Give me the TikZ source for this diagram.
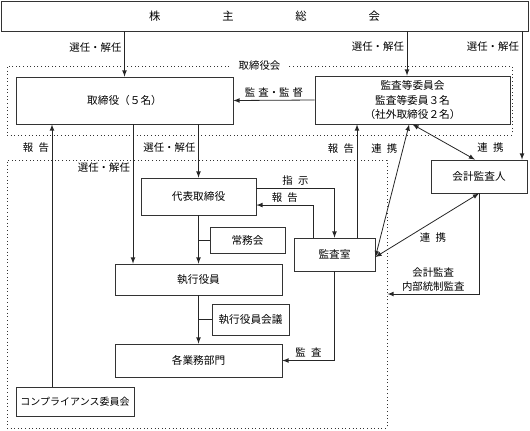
\documentclass[tikz,border=0pt]{standalone}
\usepackage{fontspec}
\newfontfamily\jpfont{Noto Sans CJK JP}
\usetikzlibrary{calc,positioning}

\begin{document}
\begin{tikzpicture}[x=0.75pt,y=-0.75pt]
    \tikzstyle{edge}  = [line width=0.6pt,>=latex,draw=black!85]
    \tikzstyle{dedge} = [edge,->]
    \tikzstyle{bedge} = [edge,<->]
    \tikzstyle{box}=[
      rectangle,
      draw=black!80,
      line width=0.6pt,
      anchor=center,
      inner sep=1pt,
      align=center,
      font=\jpfont\fontsize{8}{11}\selectfont,
    ]
    \tikzstyle{area}=[
      rectangle,
      draw=black!80,
      dotted,
      line width=0.7pt,
      anchor=center,
    ]
    \tikzstyle{lbl}=[
      inner sep=2pt,
      align=center,
      font=\jpfont\fontsize{7.8}{10}\selectfont,
    ]

    \useasboundingbox (0,0) rectangle (530,430);

    % lanes for the straight connectors
    \coordinate (laneA) at (52,0);
    \coordinate (laneB) at (133,0);
    \coordinate (laneC) at (357,0);
    \coordinate (laneD) at (407,0);
    \coordinate (laneE) at (522,0);
    \coordinate (auditY) at (0,294);

    % dotted areas
    {
      \node[area, minimum width=378.75pt, minimum height=51.75pt] (boardroom) at (259.5,100.5) {};
      \node[area, minimum width=285pt, minimum height=201pt] (execarea) at (197,294) {};
      \node[lbl, fill=white, inner xsep=6pt] (boardlbl) at (boardroom.north) {取締役会};
    }

    % boxes
    {
      \node[box, minimum width=395.25pt, minimum height=22.5pt] (share) at (264.5,16)
        {\fontsize{8.5}{10}\selectfont\makebox[173pt]{株\hfill 主\hfill 総\hfill 会}};
      \node[box, minimum width=162.75pt, minimum height=35.25pt] (board) at (124.5,100.5) {取締役（５名）};
      \node[box, minimum width=146.25pt, minimum height=36pt] (auditcom) at (412.5,100)
        {監査等委員会\\監査等委員３名\\（社外取締役２名）};
      \node[box, minimum width=72pt, minimum height=24.75pt] (auditor) at (479,176.5) {会計監査人};
      \node[box, minimum width=86.25pt, minimum height=27.75pt] (rep) at (198.5,196.5) {代表取締役};
      \node[box, minimum width=56.25pt, minimum height=19.5pt] (jomu) at (247.5,240) {常務会};
      \node[box, minimum width=60.75pt, minimum height=24.75pt] (office) at (334.5,254.5) {監査室};
      \node[box, minimum width=125.25pt, minimum height=23.25pt] (exec) at (198.5,279.5) {執行役員};
      \node[box, minimum width=57.75pt, minimum height=23.25pt] (execmtg) at (250.5,319.5) {執行役員会議};
      \node[box, minimum width=125.25pt, minimum height=24.75pt] (depts) at (198.5,360.5) {各業務部門};
      \node[box, minimum width=88.5pt, minimum height=21.75pt,
            font=\jpfont\fontsize{7.5}{9}\selectfont] (compliance) at (75,401.5) {コンプライアンス委員会};
    }

    % shareholders
    {
      \draw[dedge] (board.north |- share.south) -- (board.north)
        node[lbl,pos=0.35,left] {選任・解任};
      \draw[dedge] (laneD |- share.south) -- (laneD |- auditcom.north)
        node[lbl,pos=0.35,left] {選任・解任};
      \draw[dedge] (laneE |- share.south) -- (laneE |- auditor.north)
        node[lbl,pos=0.12,left] {選任・解任};
    }

    % board
    {
      \draw[dedge] (auditcom.west) -- (board.east)
        node[lbl,midway,above] {監\hspace{0.3em}査・監\hspace{0.3em}督};
      \draw[dedge] (laneA |- compliance.north) -- (laneA |- board.south)
        node[lbl,pos=0.91,left] {報\hspace{0.5em}告};
      \draw[dedge] (laneB |- board.south) -- (laneB |- exec.north)
        node[lbl,pos=0.31,left] {選任・解任};
      \draw[dedge] (rep.north |- board.south) -- (rep.north)
        node[lbl,pos=0.44,left] {選任・解任};
    }

    % execution
    {
      \draw[dedge] (rep.south) -- (exec.north);
      \draw[edge] (rep.south |- jomu.west) -- (jomu.west);
      \draw[dedge] (exec.south) -- (depts.north);
      \draw[edge] (exec.south |- execmtg.west) -- (execmtg.west);
    }

    % audit office
    {
      \draw[dedge] ([yshift=6.4pt]rep.east) -| (office.north)
        node[lbl,pos=0.25,above] {指\hspace{0.5em}示};
      \draw[dedge] ([xshift=-16pt]office.north) |- ([yshift=-6.4pt]rep.east)
        node[lbl,pos=0.75,above] {報\hspace{0.5em}告};
      \draw[dedge] (office.south) |- (depts.east)
        node[lbl,pos=0.75,above] {監\hspace{0.5em}査};
      \draw[dedge] (laneC |- office.north) -- (laneC |- auditcom.south)
        node[lbl,pos=0.79,left] {報\hspace{0.5em}告};
    }

    % cooperation
    {
      \draw[bedge] ([yshift=-1.9pt]office.east) -- ([xshift=-2.5pt]auditcom.south)
        node[lbl,pos=0.82,left,xshift=-2pt] {連\hspace{0.5em}携};
      \draw[bedge] (auditcom.south) -- ([xshift=-3pt]auditor.north)
        node[lbl,pos=0.67,right,xshift=15pt] {連\hspace{0.5em}携};
      \draw[bedge] ([yshift=-1.9pt]office.east) -- (auditor.south)
        node[lbl,pos=0.31,right,xshift=7pt] {連\hspace{0.5em}携};
      \draw[dedge] (auditor.south) |- (execarea.east |- auditY)
        node[lbl,pos=0.75,above] {会計監査\\内部統制監査};
    }
  \end{tikzpicture}
\end{document}
